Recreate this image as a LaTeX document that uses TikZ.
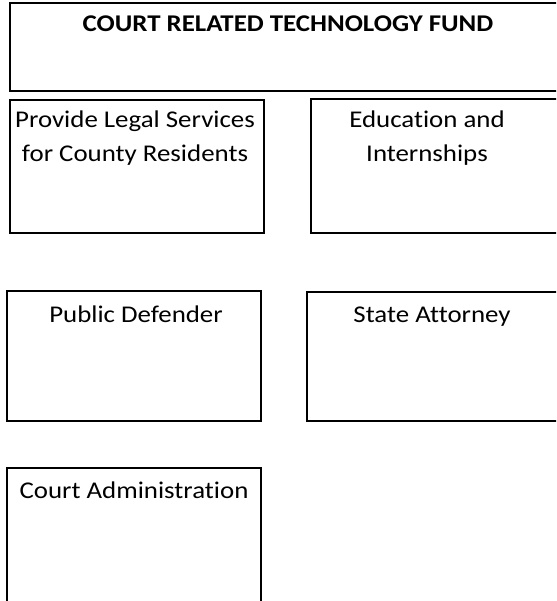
\documentclass[tikz,border=0pt]{standalone}
\usepackage{fontspec}
\setmainfont[FakeStretch=1.12,Ligatures=NoCommon]{Carlito}
\begin{document}
\begin{tikzpicture}[x=1pt,y=-1pt,
  box/.style={draw=black,line width=2pt,inner sep=0pt},
  lbl/.style={font=\fontsize{24}{34}\selectfont,align=center,inner sep=0pt,anchor=base},
  ttl/.style={font=\bfseries\fontsize{24}{30}\selectfont,inner sep=0pt,anchor=base}]
\useasboundingbox (0,0) rectangle (556,601);
\clip (0,0) rectangle (556,601);
\path[box] (10,3) rectangle (580,91) coordinate (topbox);
\path[box] (10,100) rectangle (264,233) coordinate (b1);
\path[box] (311,99) rectangle (580,233) coordinate (b2);
\path[box] (7,291) rectangle (261,421) coordinate (b3);
\path[box] (307,292) rectangle (580,421) coordinate (b4);
\path[box] (7,468) rectangle (261,620) coordinate (b5);
\node[ttl] (t0) at (288,32) {COURT RELATED TECHNOLOGY FUND};
\node[lbl] (t1a) at (135,128) {Provide Legal Services};
\node[lbl] (t1b) at (135,162) {for County Residents};
\node[lbl] (t2a) at (427,128) {Education and};
\node[lbl] (t2b) at (427,162) {Internships};
\node[lbl] (t3) at (136,322) {Public Defender};
\node[lbl] (t4) at (432,322) {State Attorney};
\node[lbl] (t5) at (134,498) {Court Administration};
\end{tikzpicture}
\end{document}
